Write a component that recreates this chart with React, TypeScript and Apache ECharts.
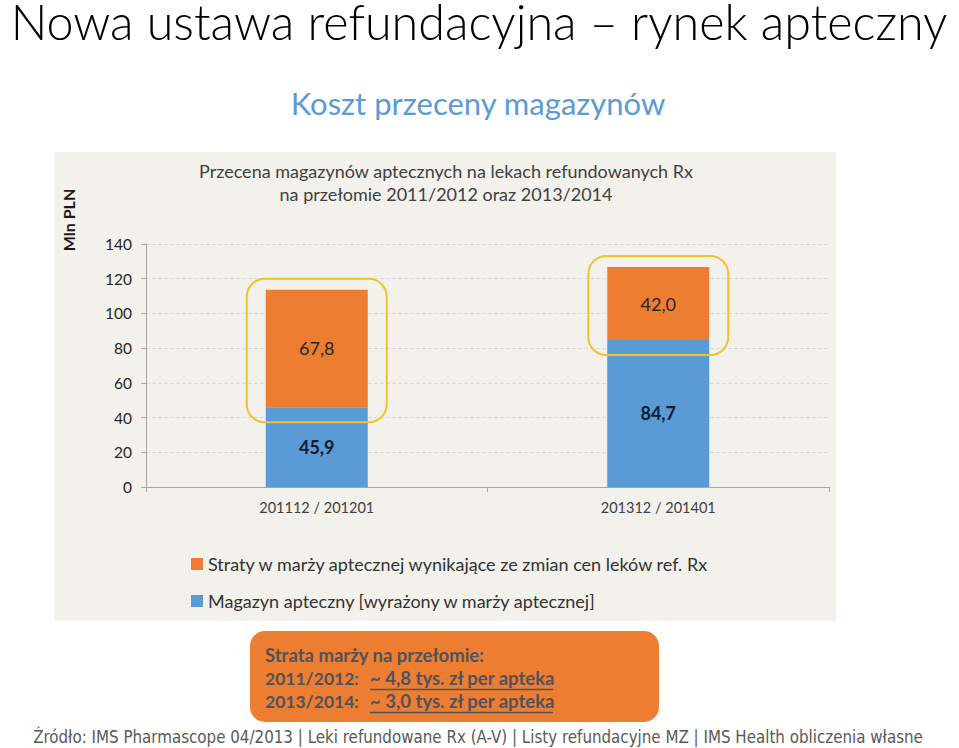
import React, { useEffect, useRef } from "react";
import * as echarts from "echarts";

const categories = ["201112 / 201201", "201312 / 201401"];
const magazynValues = [45.9, 84.7];
const stratyValues = [67.8, 42.0];
const yTicks = { min: 0, max: 140, interval: 20 };
const seriesNames = [
  "Straty w marży aptecznej wynikające ze zmian cen leków ref. Rx",
  "Magazyn apteczny [wyrażony w marży aptecznej]",
];

const FONT = "Lato";
const BOX_TEXT = "#50535c";

export default function App() {
  const ref = useRef<HTMLDivElement>(null);
  useEffect(() => {
    document.body.style.margin = "0";
    const chart = echarts.init(ref.current!, null, { renderer: "svg" });
    const highlight = categories.map((_, i) => [
      i,
      magazynValues[i],
      magazynValues[i] + stratyValues[i],
    ]);
    const fmt = (v: number) => v.toFixed(1).replace(".", ",");
    const boxText = (x: number, y: number, text: string, size = 18.5) => ({
      type: "text",
      x,
      y,
      style: {
        text,
        fontFamily: FONT,
        fontWeight: "bold",
        fontSize: size,
        fill: BOX_TEXT,
        verticalAlign: "middle",
      },
    });
    chart.setOption({
      animation: false,
      backgroundColor: "#ffffff",
      textStyle: { fontFamily: FONT },
      grid: { left: 146, right: 130, top: 244, bottom: 261 },
      legend: {
        orient: "vertical",
        left: 186,
        top: 550,
        itemWidth: 12,
        itemHeight: 12,
        itemGap: 19,
        icon: "rect",
        data: [seriesNames[0], seriesNames[1]],
        textStyle: { fontFamily: FONT, fontSize: 18, color: "#333" },
      },
      xAxis: {
        type: "category",
        data: categories,
        axisLine: { lineStyle: { color: "#a6a6a6" } },
        axisTick: { show: true, length: 5, lineStyle: { color: "#a6a6a6" } },
        axisLabel: { color: "#404040", fontSize: 14.5, margin: 13, fontFamily: FONT },
      },
      yAxis: {
        type: "value",
        min: yTicks.min,
        max: yTicks.max,
        interval: yTicks.interval,
        axisLine: { show: true, lineStyle: { color: "#a6a6a6" } },
        axisTick: { show: true, length: 5, lineStyle: { color: "#a6a6a6" } },
        axisLabel: { color: "#262626", fontSize: 15.5, margin: 14, fontFamily: FONT },
        splitLine: { lineStyle: { color: "#d9d9d9", type: "dashed" } },
      },
      series: [
        {
          name: seriesNames[1],
          type: "bar",
          stack: "s",
          barWidth: 102,
          data: magazynValues,
          itemStyle: { color: "#5b9bd5" },
          label: {
            show: true,
            position: "inside",
            formatter: (p: any) => fmt(p.value),
            color: "#0f1b33",
            fontWeight: "bold",
            fontSize: 18,
            fontFamily: FONT,
          },
        },
        {
          name: seriesNames[0],
          type: "bar",
          stack: "s",
          barWidth: 102,
          data: stratyValues,
          itemStyle: { color: "#ed7d31" },
          label: {
            show: true,
            position: "inside",
            formatter: (p: any) => fmt(p.value),
            color: "#262626",
            fontSize: 18,
            fontFamily: FONT,
          },
        },
        {
          type: "custom",
          z: 5,
          silent: true,
          data: highlight,
          encode: { x: 0, y: [1, 2] },
          renderItem: (params: any, api: any) => {
            const c = api.value(0);
            const lo = api.coord([c, api.value(1)]);
            const hi = api.coord([c, api.value(2)]);
            const x = lo[0] - 70;
            const y = hi[1] - 11;
            return {
              type: "rect",
              shape: { x, y, width: 140, height: lo[1] - hi[1] + 26, r: 18 },
              style: { fill: "none", stroke: "#f2c12e", lineWidth: 2 },
            };
          },
        },
      ],
      graphic: [
        {
          type: "rect",
          z: -10,
          shape: { x: 55, y: 152, width: 781, height: 469 },
          style: { fill: "#f2f1ec" },
        },
        {
          type: "text",
          x: 479,
          y: 21,
          style: {
            text: "Nowa ustawa refundacyjna – rynek apteczny",
            fontFamily: FONT,
            fontWeight: 300,
            fontSize: 48.5,
            lineHeight: 42,
            fill: "#000",
            align: "center",
            verticalAlign: "middle",
          },
        },
        {
          type: "text",
          x: 478,
          y: 103,
          style: {
            text: "Koszt przeceny magazynów",
            fontFamily: FONT,
            fontSize: 31,
            fill: "#5b9bd5",
            align: "center",
            verticalAlign: "middle",
          },
        },
        {
          type: "text",
          x: 446,
          y: 171,
          style: {
            text: "Przecena magazynów aptecznych na lekach refundowanych Rx",
            fontFamily: FONT,
            fontSize: 18,
            fill: "#404040",
            align: "center",
            verticalAlign: "middle",
          },
        },
        {
          type: "text",
          x: 446,
          y: 194,
          style: {
            text: "na przełomie 2011/2012 oraz 2013/2014",
            fontFamily: FONT,
            fontSize: 18,
            fill: "#404040",
            align: "center",
            verticalAlign: "middle",
          },
        },
        {
          type: "text",
          x: 68,
          y: 220,
          rotation: Math.PI / 2,
          style: {
            text: "Mln PLN",
            fontFamily: FONT,
            fontWeight: "bold",
            fontSize: 16,
            fill: "#1a1a1a",
            align: "center",
            verticalAlign: "middle",
          },
        },
        {
          type: "rect",
          shape: { x: 250, y: 631, width: 409, height: 91, r: 15 },
          style: { fill: "#ed7d31" },
        },
        boxText(265, 655, "Strata marży na przełomie:"),
        boxText(265, 678, "2011/2012:", 17.5),
        boxText(370, 678, "~ 4,8 tys. zł per apteka"),
        {
          type: "line",
          shape: { x1: 370, y1: 689.5, x2: 553, y2: 689.5 },
          style: { stroke: BOX_TEXT, lineWidth: 1.5 },
        },
        boxText(265, 701, "2013/2014:", 17.5),
        boxText(370, 701, "~ 3,0 tys. zł per apteka"),
        {
          type: "line",
          shape: { x1: 370, y1: 712.5, x2: 553, y2: 712.5 },
          style: { stroke: BOX_TEXT, lineWidth: 1.5 },
        },
        {
          type: "text",
          x: 478,
          y: 737,
          style: {
            text: "Źródło: IMS Pharmascope 04/2013 | Leki refundowane Rx (A-V) | Listy refundacyjne MZ | IMS Health obliczenia własne",
            fontFamily: "'DejaVu Sans Condensed', 'DejaVu Sans', sans-serif",
            fontSize: 16.8,
            fill: "#595959",
            align: "center",
            verticalAlign: "middle",
          },
        },
      ],
    });
    return () => chart.dispose();
  }, []);
  return <div ref={ref} style={{ width: 959, height: 748 }} />;
}
